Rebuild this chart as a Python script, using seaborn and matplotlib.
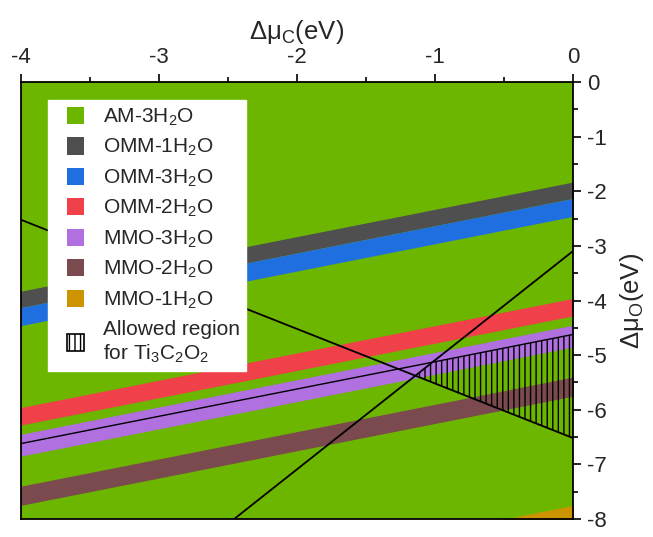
import numpy as np
import pandas as pd
import matplotlib.pyplot as plt
import seaborn as sns
from matplotlib.patches import Patch, Polygon, Rectangle
from matplotlib.legend_handler import HandlerPatch
from matplotlib.ticker import MultipleLocator

# phase names and colours (legend order)
phases = ['AM-3H$_2$O', 'OMM-1H$_2$O', 'OMM-3H$_2$O', 'OMM-2H$_2$O',
          'MMO-3H$_2$O', 'MMO-2H$_2$O', 'MMO-1H$_2$O']
colors = ['#6cb600', '#4f4f4f', '#1f6fe0', '#f0404a', '#b070e0', '#7a4a4e', '#cc9400']

# stability bands: upper / lower edge of dmu_O at dmu_C = -4 and dmu_C = 0
band_phase = ['OMM-1H$_2$O', 'OMM-3H$_2$O', 'OMM-2H$_2$O', 'MMO-3H$_2$O', 'MMO-2H$_2$O', 'MMO-1H$_2$O']
band_top_left = [-3.83, -4.13, -5.96, -6.45, -7.40, -9.75]
band_bot_left = [-4.13, -4.46, -6.28, -6.85, -7.75, -10.2]
band_top_right = [-1.83, -2.13, -3.96, -4.45, -5.40, -7.75]
band_bot_right = [-2.13, -2.46, -4.28, -4.85, -5.75, -8.2]

# boundary lines (two end points each)
line1_c = [-4.0, 0.0]
line1_o = [-2.52, -6.52]
line2_c = [-2.455, 0.0]
line2_o = [-8.0, -3.09]
line4_c = [-4.0, 0.0]
line4_o = [-6.62, -4.62]

# allowed region for Ti3C2O2
allowed_c = [-1.143, -1.02, 0.0, 0.0]
allowed_o = [-5.377, -5.13, -4.62, -6.52]


def square_right(legend, orig_handle, xdescent, ydescent, width, height, fontsize):
    # square legend key pushed to the right end of the handle box
    return Rectangle((-xdescent + width - height, -ydescent), height, height)


sns.set_theme(style='ticks')
plt.rcParams['font.family'] = ['Liberation Sans', 'DejaVu Sans']
plt.rcParams['mathtext.default'] = 'regular'
plt.rcParams['axes.unicode_minus'] = False
plt.rcParams['hatch.linewidth'] = 1.0
plt.rcParams['hatch.color'] = 'black'

fig = plt.figure(figsize=(6.53, 5.37), dpi=100)
ax = fig.add_axes([0.0317, 0.0335, 0.8463, 0.8138])
ax.set_facecolor(colors[0])

xs = np.array([-4.0, 0.0])
for i, name in enumerate(band_phase):
    col = colors[phases.index(name)]
    ax.fill_between(xs, [band_bot_left[i], band_bot_right[i]],
                    [band_top_left[i], band_top_right[i]],
                    color=col, linewidth=0, zorder=1)

ax.add_patch(Polygon(list(zip(allowed_c, allowed_o)), closed=True,
                     facecolor='none', edgecolor='black', linewidth=0,
                     hatch='|||', zorder=2))

lines = pd.DataFrame({
    'c': line1_c + line2_c + line4_c,
    'o': line1_o + line2_o + line4_o,
    'line': ['l1'] * 2 + ['l2'] * 2 + ['l4'] * 2,
})
sns.lineplot(data=lines[lines.line != 'l4'], x='c', y='o', units='line',
             estimator=None, color='black', linewidth=1.3, ax=ax, zorder=3)
sns.lineplot(data=lines[lines.line == 'l4'], x='c', y='o',
             estimator=None, color='black', linewidth=1.0, ax=ax, zorder=3)

ax.set_xlim(-4, 0)
ax.set_ylim(-8, 0)

ax.xaxis.set_ticks_position('top')
ax.xaxis.set_label_position('top')
ax.yaxis.set_ticks_position('right')
ax.yaxis.set_label_position('right')
ax.xaxis.set_major_locator(MultipleLocator(1))
ax.xaxis.set_minor_locator(MultipleLocator(0.5))
ax.yaxis.set_major_locator(MultipleLocator(1))
ax.yaxis.set_minor_locator(MultipleLocator(0.5))
ax.tick_params(which='major', direction='out', length=6, width=1.2,
               labelsize=16, color='black', pad=4)
ax.tick_params(which='minor', direction='out', length=3.5, width=1.2, color='black')
for s in ax.spines.values():
    s.set_color('black')
    s.set_linewidth(1.3)

ax.set_xlabel('Δμ$_C$(eV)', fontsize=18.5, labelpad=6)
ax.set_ylabel('Δμ$_O$(eV)', fontsize=18.5, labelpad=8)

handles = [Patch(facecolor=c, edgecolor='none') for c in colors]
labels = list(phases)
handles.append(Patch(facecolor='white', edgecolor='black', hatch='|||', linewidth=1.2))
labels.append('Allowed region\nfor Ti$_3$C$_2$O$_2$')
leg = ax.legend(handles, labels, loc='upper left', bbox_to_anchor=(0.049, 0.958),
                borderaxespad=0, fontsize=15, frameon=True, fancybox=False,
                framealpha=1, edgecolor='white', facecolor='white',
                handlelength=1.45, handleheight=0.9, handletextpad=0.9,
                labelspacing=0.44, borderpad=0.3,
                handler_map={Patch: HandlerPatch(patch_func=square_right)})

fig.savefig('out.png', dpi=100)
